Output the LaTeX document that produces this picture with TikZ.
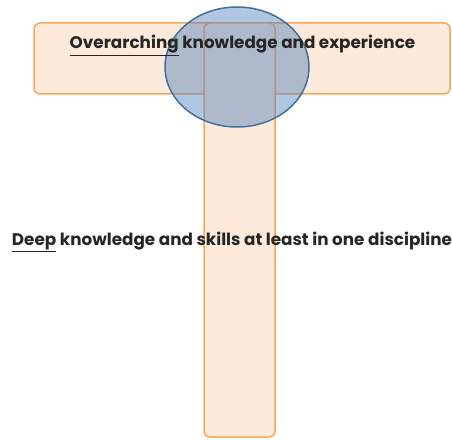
\documentclass[tikz,border=0pt]{standalone}
\usepackage{fontspec}
\setmainfont{Poppins}
\definecolor{barfill}{HTML}{FDEADA}
\definecolor{barline}{HTML}{F9A65A}
\definecolor{ellfill}{HTML}{4F81BD}
\definecolor{ellline}{HTML}{41719C}
\tikzset{
  bar/.style={draw=barline, fill=barfill, line width=1.5pt, rounded corners=6pt},
  lbl/.style={font=\bfseries\fontsize{16.8}{20}\selectfont, inner sep=0pt, text=black!85},
}
\begin{document}
\begin{tikzpicture}[x=1pt,y=1pt]
\useasboundingbox (0,0) rectangle (452,439);
\path[bar] (34,345) rectangle (450,416);
\path[bar] (204,2) rectangle (275,416);
\path[draw=ellline, line width=1.5pt, fill=ellfill, fill opacity=0.45] (237,372) ellipse [x radius=72, y radius=60];
\node[lbl] (top) at (242.5,393.5) {\underline{Overarching} knowledge and experience};
\node[lbl] (deep) at (232,197) {\underline{Deep} knowledge and skills at least in one discipline};
\end{tikzpicture}
\end{document}
